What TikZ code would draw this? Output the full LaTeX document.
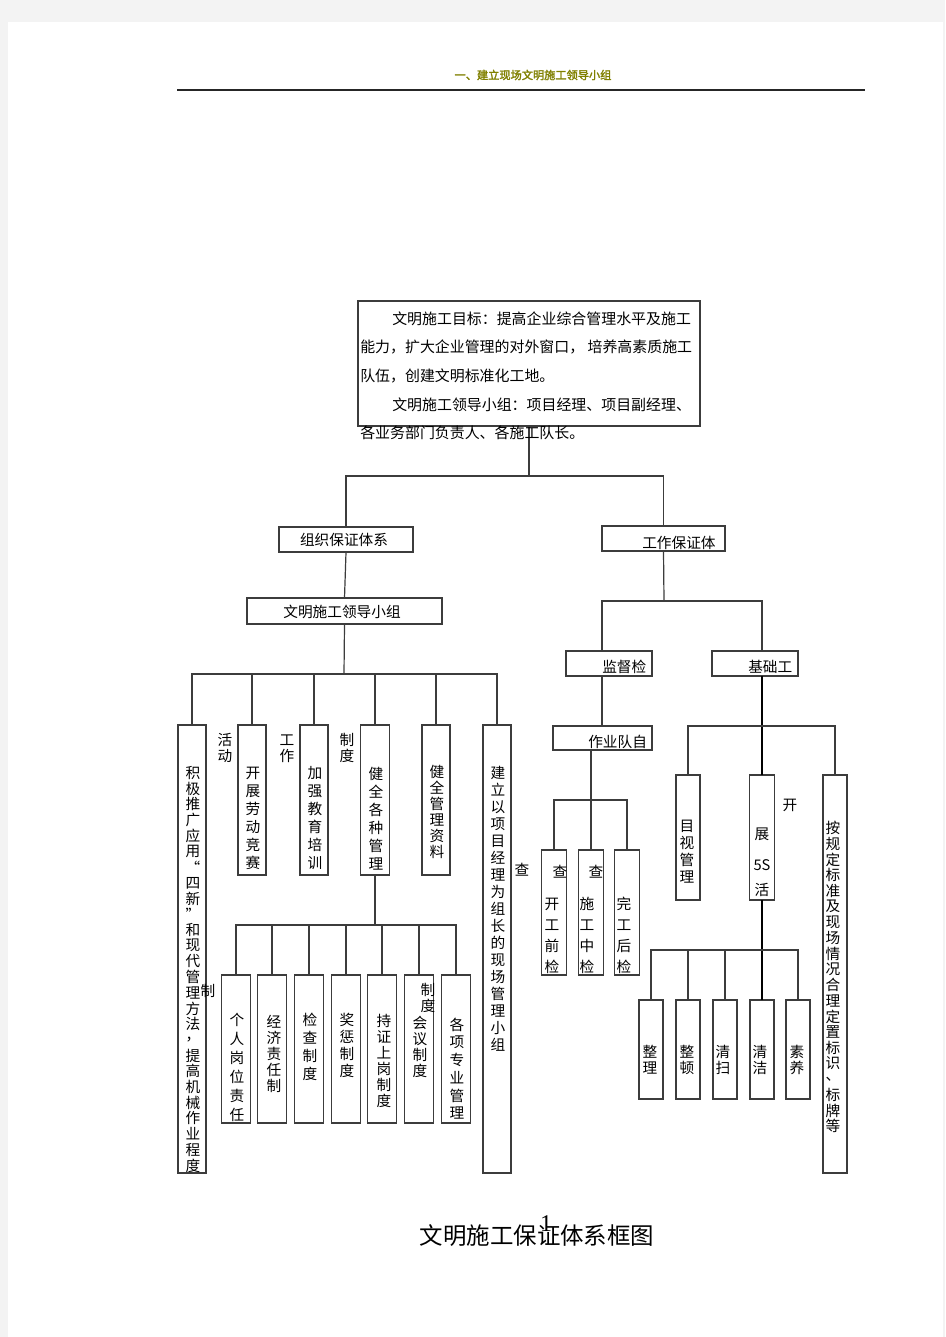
\documentclass[tikz,border=0pt]{standalone}
\usepackage{fontspec}
\newfontfamily\cjk{Noto Sans CJK SC}
\newfontfamily\cjkb[FakeBold=2]{Noto Sans CJK SC}
\newfontfamily\numfont{Liberation Serif}
\definecolor{linec}{HTML}{3C3C3C}
\definecolor{olivec}{RGB}{128,128,0}
\definecolor{bgc}{HTML}{F3F3F3}
% box: name, x1, y1, x2, y2 (pixels)
\newcommand\pbox[5]{\node[box, minimum width={(#4-#2)*0.75pt}, minimum height={(#5-#3)*0.75pt}] (#1) at ({(#2+#4)/2},{(#3+#5)/2}) {};}
% vertical text column: name, x, y of first char, step, chars
\newcommand\vcol[5]{\foreach \c [count=\i from 0] in {#5} {\node[ch] (#1-\i) at (#2,{#3+\i*#4}) {\c};}}
\begin{document}
\begin{tikzpicture}[x=0.75pt,y=-0.75pt,
  box/.style={draw=linec, line width=0.9pt, inner sep=0pt, outer sep=0pt},
  conn/.style={draw=linec, line width=0.9pt},
  thickconn/.style={draw=black, line width=1.6pt},
  ch/.style={font=\cjk\fontsize{11}{13}\selectfont, inner sep=0pt},
  ht/.style={font=\cjk\fontsize{11}{13}\selectfont, inner sep=0pt},
  toptext/.style={font=\cjk\fontsize{11.2}{13}\selectfont, inner sep=0pt, anchor=west}]
\useasboundingbox (0,0) rectangle (945,1337);
\fill[bgc] (0,0) rectangle (945,1337);
\fill[white] (8,22) rectangle (943,1337);

% header
\node[font=\cjkb\fontsize{8.4}{10}\selectfont, text=olivec, inner sep=0pt] (hdr) at (533,75) {一、建立现场文明施工领导小组};
\coordinate (hl1) at (177,90);
\coordinate (hl2) at (865,90);
\draw[line width=1pt, draw=black!85] (hl1) -- (hl2);

% boxes
\pbox{top}{358}{301}{700}{426}
\pbox{zz}{279}{527}{413}{552}
\pbox{gb}{602}{526}{725}{551}
\pbox{wl}{247}{598}{442}{624}
\pbox{L1}{178}{725}{206}{1173}
\pbox{L2}{238}{725}{266}{875}
\pbox{L3}{300}{725}{328}{875}
\pbox{L4}{360.5}{725}{389.5}{875}
\pbox{L5}{422}{725}{450}{875}
\pbox{L6}{483}{725}{511}{1173}
\pbox{Sa}{221.5}{975}{250.5}{1123}
\pbox{Sb}{257.5}{975}{286.5}{1123}
\pbox{Sc}{294.5}{975}{323.5}{1123}
\pbox{Sd}{331.5}{975}{360.5}{1123}
\pbox{Se}{367.5}{975}{396.5}{1123}
\pbox{Sf}{404.5}{975}{433.5}{1123}
\pbox{Sg}{441.5}{975}{470.5}{1123}
\pbox{jd}{566}{651}{652}{676}
\pbox{jc}{712}{651}{798}{676}
\pbox{zy}{553}{726}{652}{750}
\pbox{c1}{541.5}{850}{566.5}{975}
\pbox{c2}{578.5}{850}{603.5}{975}
\pbox{c3}{614.5}{850}{639.5}{975}
\pbox{mg}{676}{775}{700}{900}
\pbox{s5}{749.5}{775}{774.5}{900}
\pbox{ag}{823}{775}{847}{1173}
\pbox{q1}{639}{1000}{663}{1099}
\pbox{q2}{676}{1000}{700}{1099}
\pbox{q3}{713}{1000}{737}{1099}
\pbox{q4}{750}{1000}{774}{1099}
\pbox{q5}{786}{1000}{810}{1099}

% bus coordinates
\coordinate (b1) at (529,476);
\coordinate (b2) at (344,674);
\coordinate (b3) at (664,601);
\coordinate (b7) at (375,925);
\coordinate (jdin) at (602,651);
\coordinate (jcin) at (762,651);
\coordinate (b4) at (591,800);
\coordinate (b5) at (762,726);
\coordinate (b6) at (762,950);

% connectors
\draw[conn] (top.south) -- (b1);
\draw[conn] (zz.north) |- (b1) -| (gb.north);
\draw[conn] (zz.south) -- (wl.north);
\draw[conn] (wl.south) -- (b2);
\draw[conn] (L1.north) |- (b2) -| (L6.north);
\draw[conn] (L2.north) -- (L2.north |- b2);
\draw[conn] (L3.north) -- (L3.north |- b2);
\draw[conn] (L4.north) -- (L4.north |- b2);
\draw[conn] (L5.north) -- (L5.north |- b2);
\draw[conn] (L4.south) -- (b7);
\draw[conn] (Sa.north) |- (b7) -| (Sg.north);
\draw[conn] (Sb.north) -- (Sb.north |- b7);
\draw[conn] (Sc.north) -- (Sc.north |- b7);
\draw[conn] (Sd.north) -- (Sd.north |- b7);
\draw[conn] (Se.north) -- (Se.north |- b7);
\draw[conn] (Sf.north) -- (Sf.north |- b7);
\draw[conn] (gb.south) -- (b3);
\draw[conn] (jdin) |- (b3) -| (jcin);
\draw[conn] (jdin |- jd.south) -- (jdin |- zy.north);
\draw[conn] (b4 |- zy.south) -- (b4);
\draw[conn] (c1.north) |- (b4) -| (c3.north);
\draw[conn] (c2.north) -- (c2.north |- b4);
\draw[thickconn] (jcin |- jc.south) -- (s5.north);
\draw[conn] (mg.north) |- (b5) -| (ag.north);
\draw[thickconn] (s5.south) -- (q4.north);
\draw[conn] (q1.north) |- (b6) -| (q5.north);
\draw[conn] (q2.north) -- (q2.north |- b6);
\draw[conn] (q3.north) -- (q3.north |- b6);

% top box text
\node[toptext] (t1) at (392,319) {文明施工目标：提高企业综合管理水平及施工};
\node[toptext] (t2) at (360,347) {能力，扩大企业管理的对外窗口， 培养高素质施工};
\node[toptext] (t3) at (360,376) {队伍，创建文明标准化工地。};
\node[toptext] (t4) at (392,405) {文明施工领导小组：项目经理、项目副经理、};
\node[toptext] (t5) at (360,433) {各业务部门负责人、各施工队长。};

% horizontal box labels
\node[ht] (zzt) at (344,540) {组织保证体系};
\node[ht, anchor=west] (gbt) at (642,543) {工作保证体};
\node[ht] (wlt) at (342,612) {文明施工领导小组};
\node[ht, anchor=west] (jdt) at (602,667) {监督检};
\node[ht, anchor=west] (jct) at (748,667) {基础工};
\node[ht, anchor=west] (zyt) at (588,742) {作业队自};

% vertical texts, left
\vcol{v1}{193}{773}{15.7}{积,极,推,广,应,用,“,四,新,”,和,现,代,管,理,方,法,，,提,高,机,械,作,业,程,度}
\vcol{v2}{253}{773}{18}{开,展,劳,动,竞,赛}
\vcol{v3}{315}{773}{18}{加,强,教,育,培,训}
\vcol{v4}{376}{774}{18}{健,全,各,种,管,理}
\vcol{v5}{437}{772}{16}{健,全,管,理,资,料}
\vcol{v6}{498}{773}{17}{建,立,以,项,目,经,理,为,组,长,的,现,场,管,理,小,组}
\vcol{f1}{225}{740}{16}{活,动}
\vcol{f2}{287}{740}{16}{工,作}
\vcol{f3}{347}{740}{16}{制,度}
\node[ch] (f4) at (522,870) {查};
\node[ch] (f5) at (208,991) {制};

% sub boxes texts
\vcol{sa}{237}{1020}{19}{个,人,岗,位,责,任}
\vcol{sb}{274}{1022}{16}{经,济,责,任,制}
\vcol{sc}{310}{1020}{18}{检,查,制,度}
\vcol{sd}{347}{1020}{17}{奖,惩,制,度}
\vcol{se}{384}{1021}{16}{持,证,上,岗,制,度}
\vcol{sf}{420}{1023}{16}{会,议,制,度}
\vcol{sf0}{428}{990}{16}{制,度}
\vcol{sg}{457}{1025}{17.6}{各,项,专,业,管,理}

% right side texts
\node[ch] (ck1) at (560,872) {查};
\node[ch] (ck2) at (596,872) {查};
\vcol{ca}{552}{904}{21}{开,工,前,检}
\vcol{cb}{587}{904}{21}{施,工,中,检}
\vcol{cc}{624}{904}{21}{完,工,后,检}
\vcol{mgt}{687}{826}{17}{目,视,管,理}
\node[ch] (s5a) at (762,834) {展};
\node[ch] (s5b) at (762,865) {5S};
\node[ch] (s5c) at (762,890) {活};
\node[ch] (kai) at (790,805) {开};
\vcol{agt}{833}{828}{15.7}{按,规,定,标,准,及,现,场,情,况,合,理,定,置,标,识,、,标,牌,等}
\vcol{qa}{650}{1052}{16}{整,理}
\vcol{qb}{687}{1052}{16}{整,顿}
\vcol{qc}{723}{1052}{16}{清,扫}
\vcol{qd}{760}{1052}{16}{清,洁}
\vcol{qe}{797}{1052}{16}{素,养}

% footer
\node[font=\cjk\fontsize{17.6}{20}\selectfont, inner sep=0pt] (ttl) at (537,1236) {文明施工保证体系框图};
\node[font=\numfont\fontsize{18}{20}\selectfont, inner sep=0pt] (pg) at (546,1224) {1};
\end{tikzpicture}
\end{document}
